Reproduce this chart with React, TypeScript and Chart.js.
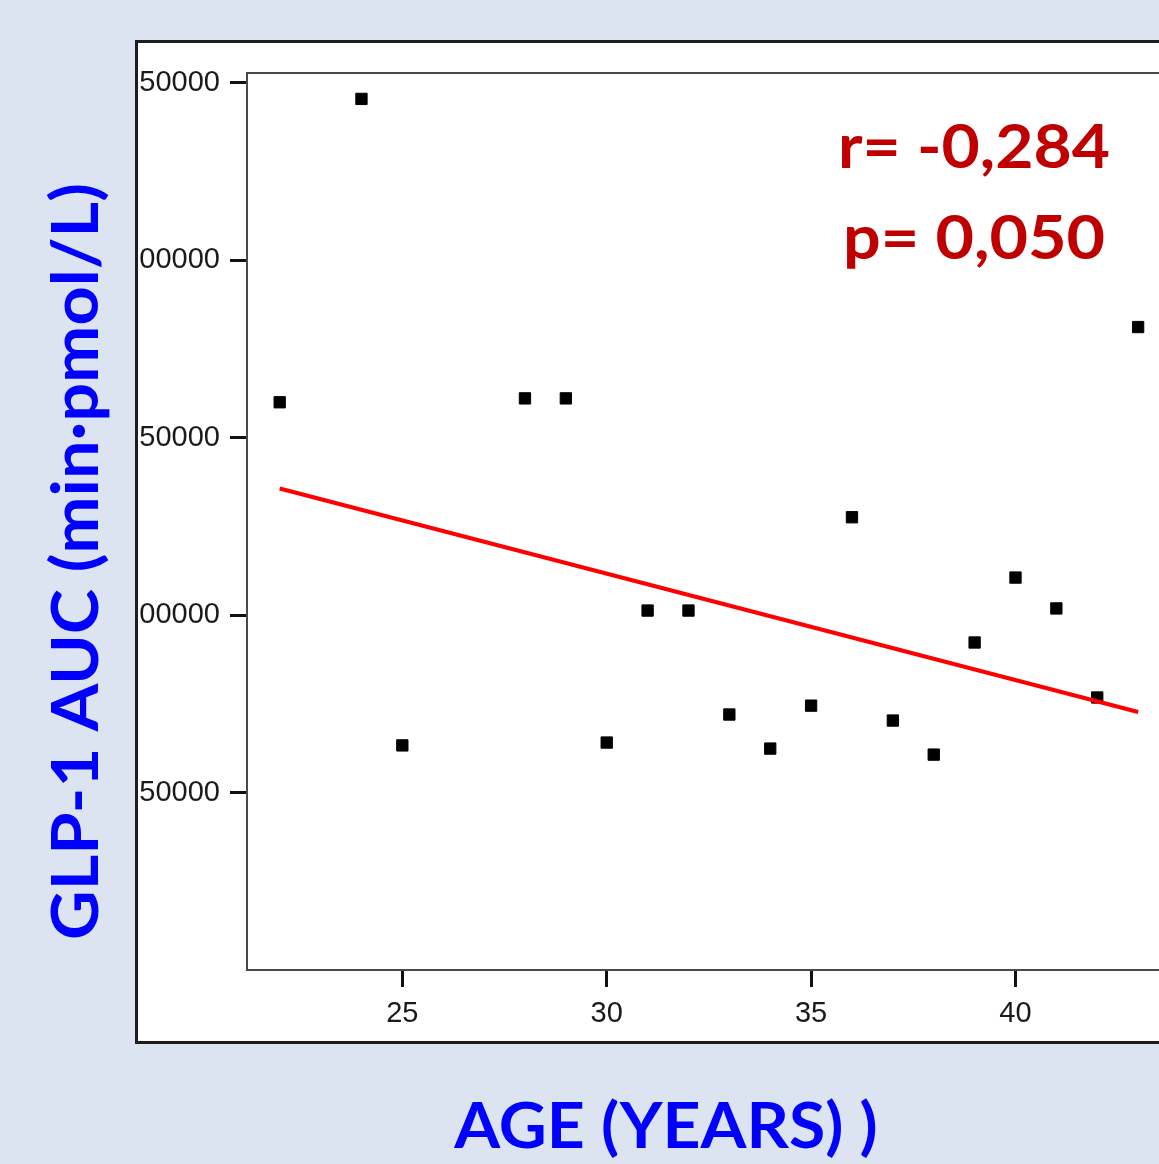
import React, { useEffect, useRef } from "react";
import { Chart, registerables } from "chart.js";

Chart.register(...registerables);

// ---- data ----
const ages = [22, 24, 25, 28, 29, 30, 31, 32, 33, 34, 35, 36, 37, 38, 39, 40, 41, 42, 43];
const glpAuc = [
  160000, 245500, 63300, 161100, 161100, 64100, 101300, 101300, 72000, 62400,
  74500, 127600, 70300, 60700, 92300, 110600, 101900, 76800, 181200,
];
const fitAges = [22, 43];
const fitValues = [135700, 72700];
const yTickValues = [50000, 100000, 150000, 200000, 250000];
const yTickLabels = ["50000", "00000", "50000", "00000", "50000"];
const xTickValues = [25, 30, 35, 40];
const statLines = ["r= -0,284", "p= 0,050"];
const yTitle = "GLP-1 AUC (min·pmol/L)";
const xTitle = "AGE (YEARS) )";

function drawFitted(
  ctx: CanvasRenderingContext2D,
  text: string,
  x: number,
  y: number,
  rotation: number,
  capHeight: number,
  width: number,
  color: string,
  family: string
) {
  ctx.save();
  const base = 100;
  ctx.font = `bold ${base}px ${family}`;
  const cap = ctx.measureText("H").actualBoundingBoxAscent || 72;
  const size = (base * capHeight) / cap;
  ctx.font = `bold ${size}px ${family}`;
  const m = ctx.measureText(text);
  const ink = (m.actualBoundingBoxLeft || 0) + (m.actualBoundingBoxRight || m.width);
  const sx = width / (ink || m.width);
  ctx.translate(x, y);
  ctx.rotate(rotation);
  ctx.scale(sx, 1);
  ctx.textAlign = "center";
  ctx.textBaseline = "alphabetic";
  ctx.fillStyle = color;
  ctx.fillText(text, 0, 0);
  ctx.restore();
}

const framePlugin = {
  id: "frame",
  beforeDraw(chart: any) {
    const ctx = chart.ctx as CanvasRenderingContext2D;
    ctx.save();
    ctx.fillStyle = "#ffffff";
    ctx.fillRect(137, 42, 1200, 1000);
    ctx.lineWidth = 3;
    ctx.strokeStyle = "#1e1e1e";
    ctx.strokeRect(136.5, 41.5, 1200, 1001);
    ctx.restore();
  },
  beforeDatasetsDraw(chart: any) {
    const ctx = chart.ctx as CanvasRenderingContext2D;
    const a = chart.chartArea;
    ctx.save();
    ctx.lineWidth = 2;
    ctx.strokeStyle = "#4a4a4a";
    ctx.strokeRect(a.left, a.top, a.right - a.left, a.bottom - a.top);
    ctx.restore();
  },
  afterDraw(chart: any) {
    const ctx = chart.ctx as CanvasRenderingContext2D;
    drawFitted(ctx, statLines[0], 974, 168, 0, 45, 268, "#c00000", "Lato");
    drawFitted(ctx, statLines[1], 974, 259, 0, 45, 258, "#c00000", "Lato");
    drawFitted(ctx, xTitle, 666, 1148, 0, 46, 422, "#0000ff", "Lato");
    drawFitted(ctx, yTitle, 98, 561.5, -Math.PI / 2, 47, 753, "#0000ff", "Lato");
  },
};

export default function App() {
  const ref = useRef<HTMLCanvasElement>(null);

  useEffect(() => {
    const canvas = ref.current;
    if (!canvas) return;
    const tickFont = { family: "'Liberation Sans', Arial, sans-serif", size: 29 };
    const chart = new Chart(canvas, {
      type: "scatter",
      data: {
        datasets: [
          {
            type: "line",
            label: "fit",
            data: fitAges.map((a, i) => ({ x: a, y: fitValues[i] })),
            borderColor: "#ff0000",
            borderWidth: 4,
            pointRadius: 0,
            fill: false,
          } as any,
          {
            label: "GLP-1 AUC",
            data: ages.map((a, i) => ({ x: a, y: glpAuc[i] })),
            pointStyle: "rect",
            pointRadius: 8,
            pointBorderWidth: 1,
            backgroundColor: "#000000",
            borderColor: "#000000",
          },
        ],
      },
      options: {
        animation: false,
        responsive: false,
        devicePixelRatio: 1,
        layout: { padding: { left: 0, top: 73, right: 21, bottom: 0 } },
        plugins: { legend: { display: false }, tooltip: { enabled: false } },
        scales: {
          x: {
            type: "linear",
            min: 21.2,
            max: 44,
            afterBuildTicks: (s: any) => {
              s.ticks = xTickValues.map((v) => ({ value: v }));
            },
            afterFit: (s: any) => {
              s.height = 194;
            },
            ticks: {
              font: tickFont,
              color: "#1a1a1a",
              padding: 10,
              maxRotation: 0,
              callback: (v: any) => String(v),
            },
            grid: {
              display: true,
              drawOnChartArea: false,
              tickLength: 17,
              tickWidth: 3,
              tickColor: "#111111",
            },
            border: { display: false },
          },
          y: {
            type: "linear",
            min: 0,
            max: 252800,
            afterBuildTicks: (s: any) => {
              s.ticks = yTickValues.map((v) => ({ value: v }));
            },
            afterFit: (s: any) => {
              s.width = 247;
            },
            ticks: {
              font: tickFont,
              color: "#1a1a1a",
              padding: 10,
              callback: (v: any) => {
                const i = yTickValues.indexOf(Number(v));
                return i >= 0 ? yTickLabels[i] : "";
              },
            },
            grid: {
              display: true,
              drawOnChartArea: false,
              tickLength: 17,
              tickWidth: 3,
              tickColor: "#111111",
            },
            border: { display: false },
          },
        },
      },
      plugins: [framePlugin],
    });
    return () => chart.destroy();
  }, []);

  return (
    <div
      style={{
        position: "fixed",
        left: 0,
        top: 0,
        width: 1159,
        height: 1164,
        overflow: "hidden",
        background: "#dde4f1",
      }}
    >
      <canvas ref={ref} width={1200} height={1164} style={{ display: "block", width: 1200, height: 1164 }} />
    </div>
  );
}
